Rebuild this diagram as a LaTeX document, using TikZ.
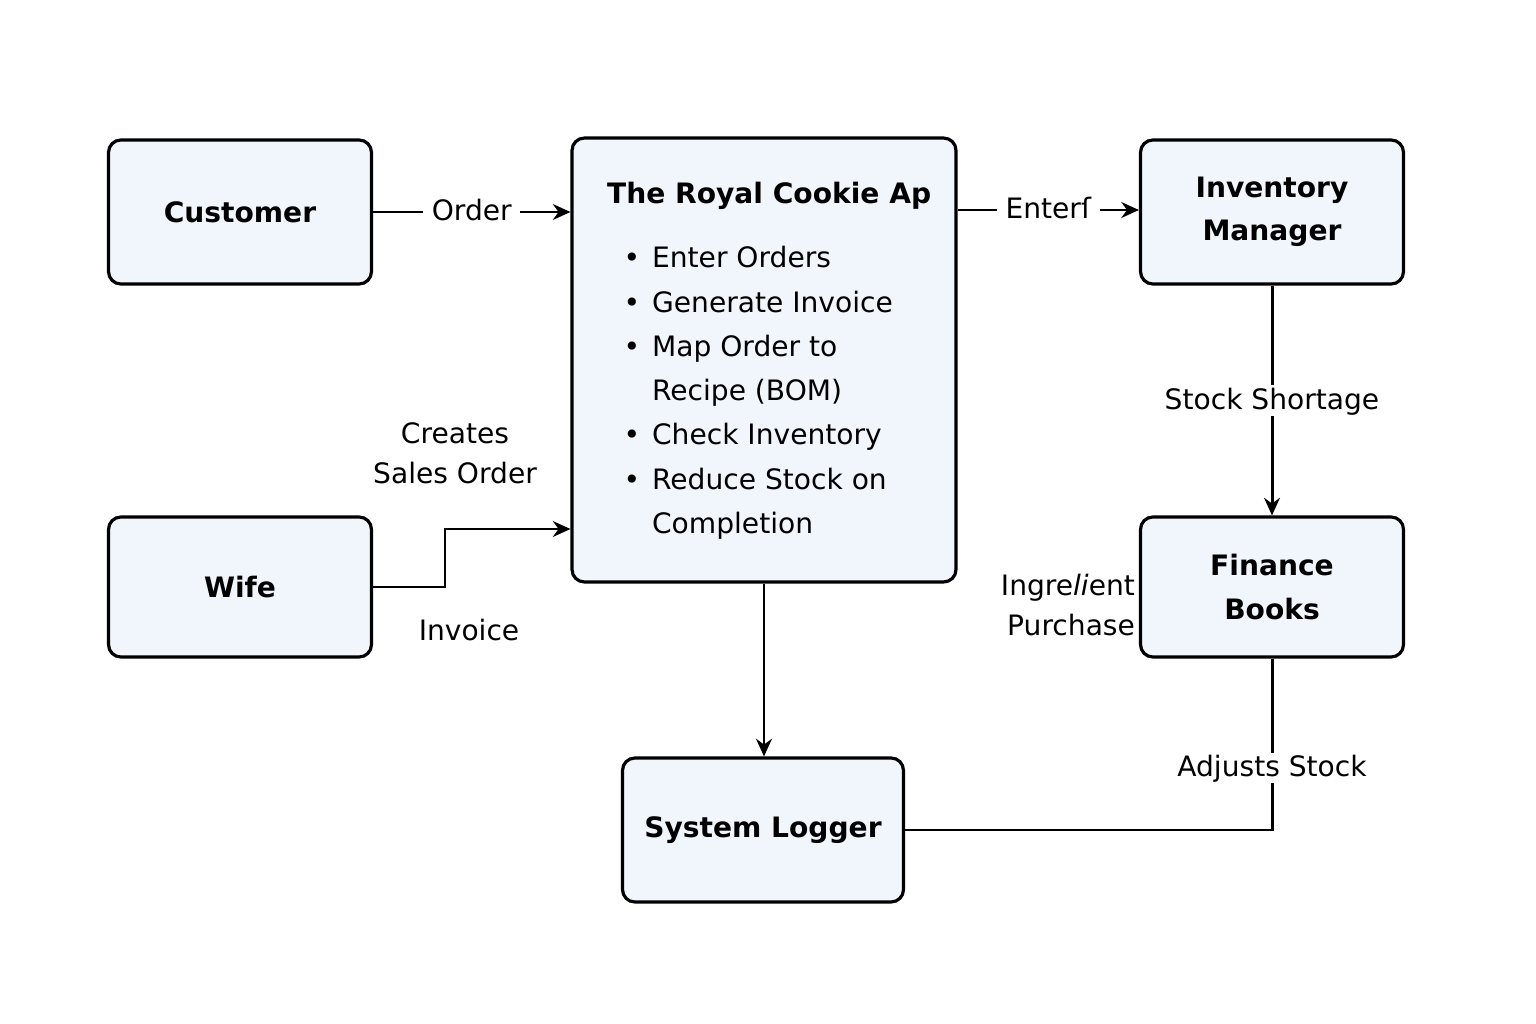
\documentclass[tikz,border=0pt]{standalone}
\usepackage{fontspec}
\setmainfont{DejaVu Sans}
\usetikzlibrary{arrows.meta,positioning}
\definecolor{boxfill}{RGB}{240,246,252}

\begin{document}
\begin{tikzpicture}
	[x=0.02cm,y=-0.02cm,
	 block/.style={draw,line width=1.8pt,rounded corners=7pt,fill=boxfill,
	   minimum width=5.26cm,minimum height=2.88cm,align=center,
	   font=\fontsize{16}{24.5}\selectfont\bfseries},
	 plain/.style={font=\fontsize{16}{22.5}\selectfont,inner sep=1pt},
	 txt/.style={plain,text height=1.05em,text depth=0.08em},
	 onlink/.style={txt,fill=white,inner xsep=5pt,inner ysep=3pt},
	 link/.style={line width=1.7pt},
	 arr/.style={link,-{Stealth[length=10pt,width=9pt]}}]
\useasboundingbox (0,0) rectangle (1536,1024);
% boxes
\node[block] (cust) at (240,212) {Customer};
\node[block,minimum height=2.8cm] (wife) at (240,587) {Wife};
\node[block,minimum width=7.68cm,minimum height=8.88cm] (app) at (764,360) {};
\node[block] (inv) at (1272,212) {Inventory\\Manager};
\node[block,minimum height=2.8cm] (fin) at (1272,587) {Finance\\Books};
\node[block,minimum width=5.62cm] (log) at (763,830) {System Logger};
% inside the app box
\node[txt,font=\fontsize{16}{20}\selectfont\bfseries,anchor=west] (title) at (605,195) {The Royal Cookie Ap};
\foreach \n/\y in {1/259,2/304,3/348,5/436,6/481}
\node[txt] (bul\n) at (632,\y) {\textbullet};
\foreach \n/\y/\t in {1/259/{Enter Orders},2/304/{Generate Invoice},3/348/{Map Order to},
	4/392/{Recipe (BOM)},5/436/{Check Inventory},6/481/{Reduce Stock on},7/525/{Completion}}
\node[txt,anchor=west] (item\n) at (650,\y) {\t};
% links
\draw[arr] (cust.east) -- node[onlink] (lorder) {Order} (app.west |- cust.east);
\draw[arr] (app.east |- 0,210) -- node[onlink] (lenter) {Enterſ} (inv.west |- 0,210);
\draw[arr] (inv) -- node[onlink] (lshort) {Stock Shortage} (fin);
\coordinate (wbend) at (445,529);
\draw[arr] (wife.east) -| (wbend) -- (app.west |- wbend);
\node[plain,align=center] (lcreates) at (455,453) {Creates\\Sales Order};
\node[txt] (linvoice) at (469,632) {Invoice};
\draw[arr] (app.south) -- (app.south |- log.north);
\draw[link] (fin.south) |- node[onlink,pos=0.32] (ladjust) {Adjusts Stock} (log.east);
\node[plain,align=right,anchor=east] (lingr) at (1137,605) {Ingre\textit{li}ent\\Purchase};
\end{tikzpicture}
\end{document}
